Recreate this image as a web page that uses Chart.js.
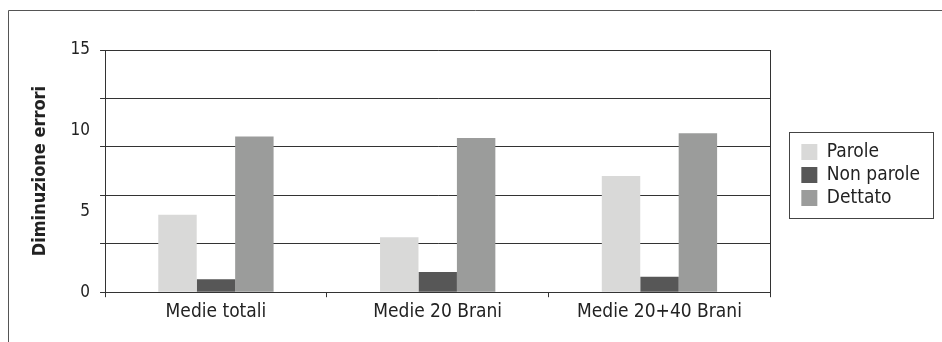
<!DOCTYPE html>
<html>
<head>
<meta charset="utf-8">
<script src="https://cdn.jsdelivr.net/npm/chart.js@4"></script>
<style>
  html, body { margin: 0; padding: 0; background: #fff; }
  #wrap { width: 942px; height: 342px; }
</style>
</head>
<body>
<div id="wrap"><canvas id="chart" width="942" height="342"></canvas></div>
<script>
const categories = ["Medie totali", "Medie 20 Brani", "Medie 20+40 Brani"];
const seriesNames = ["Parole", "Non parole", "Dettato"];
const parole = [4.8, 3.4, 7.2];
const nonParole = [0.8, 1.25, 0.95];
const dettato = [9.65, 9.55, 9.85];
const gridTicks = [0, 3, 6, 9, 12, 15];
const labelTicks = [0, 5, 10, 15];
const seriesColors = ["#d9d9d8", "#575757", "#9b9c9b"];

const FONT = "'DejaVu Sans Condensed', 'DejaVu Sans', sans-serif";
const LEGEND_SHIFT = 27;
const LEGEND_RAISE = 13;

// push the legend items away from the plot and give them a box
const framePlugin = {
    id: "frame",
    afterInit(chart) {
        const lg = chart.legend;
        const fit = lg.fit;
        lg.fit = function () {
            fit.call(this);
            this.width += LEGEND_SHIFT;
        };
        const draw = lg.draw;
        lg.draw = function () {
            this.left += LEGEND_SHIFT;
            this.top -= LEGEND_RAISE;
            this.bottom -= LEGEND_RAISE;
            draw.apply(this, arguments);
            this.left -= LEGEND_SHIFT;
            this.top += LEGEND_RAISE;
            this.bottom += LEGEND_RAISE;
        };
    },
    afterDraw(chart) {
        const ctx = chart.ctx;
        const a = chart.chartArea;
        ctx.save();
        ctx.strokeStyle = "#555";
        ctx.lineWidth = 1;
        ctx.beginPath();
        ctx.moveTo(8.5, 342);
        ctx.lineTo(8.5, 10.5);
        ctx.lineTo(942, 10.5);
        ctx.stroke();
        ctx.strokeStyle = "#333";
        ctx.beginPath();
        ctx.moveTo(Math.round(a.right) + 0.5, a.top);
        ctx.lineTo(Math.round(a.right) + 0.5, a.bottom + 4);
        ctx.stroke();
        const boxes = chart.legend.legendHitBoxes;
        if (boxes && boxes.length) {
            const x0 = Math.min(...boxes.map(b => b.left)) + LEGEND_SHIFT - 12;
            const x1 = Math.max(...boxes.map(b => b.left + b.width)) + LEGEND_SHIFT + 13;
            const y0 = Math.min(...boxes.map(b => b.top)) - LEGEND_RAISE - 11;
            const y1 = Math.max(...boxes.map(b => b.top + b.height)) - LEGEND_RAISE + 10;
            ctx.strokeStyle = "#444";
            ctx.strokeRect(Math.round(x0) + 0.5, Math.round(y0) + 0.5, Math.round(x1 - x0), Math.round(y1 - y0));
        }
        ctx.restore();
    }
};

new Chart("chart", {
    type: "bar",
    data: {
        labels: categories,
        datasets: [
            { label: seriesNames[0], data: parole, backgroundColor: seriesColors[0] },
            { label: seriesNames[1], data: nonParole, backgroundColor: seriesColors[1] },
            { label: seriesNames[2], data: dettato, backgroundColor: seriesColors[2] }
        ]
    },
    options: {
        responsive: false,
        animation: false,
        datasets: {
            bar: { categoryPercentage: 0.52, barPercentage: 1.0 }
        },
        layout: { padding: { top: 50, right: 12, left: 30, bottom: 16 } },
        plugins: {
            tooltip: { enabled: false },
            legend: {
                position: "right",
                labels: {
                    font: { family: FONT, size: 19 },
                    color: "#222",
                    boxWidth: 16,
                    boxHeight: 16,
                    padding: 4
                }
            }
        },
        scales: {
            x: {
                grid: { drawOnChartArea: false, tickLength: 5, color: "#333" },
                border: { color: "#333" },
                ticks: { font: { family: FONT, size: 19 }, color: "#222", padding: 3 }
            },
            y: {
                min: 0,
                max: 15,
                afterBuildTicks(scale) {
                    const vals = [...new Set(gridTicks.concat(labelTicks))].sort((p, q) => p - q);
                    scale.ticks = vals.map(v => ({ value: v }));
                },
                grid: {
                    tickLength: 5,
                    color: c => gridTicks.includes(c.tick.value) ? "#333" : "rgba(0,0,0,0)"
                },
                border: { color: "#333" },
                ticks: {
                    font: { family: FONT, size: 17 },
                    color: "#222",
                    padding: 10,
                    callback: v => labelTicks.includes(v) ? String(v) : ""
                },
                title: {
                    display: true,
                    text: "Diminuzione errori",
                    font: { family: FONT, size: 18, weight: "bold" },
                    color: "#222",
                    padding: { top: 0, bottom: 9 }
                }
            }
        }
    },
    plugins: [framePlugin]
});
</script>
</body>
</html>
